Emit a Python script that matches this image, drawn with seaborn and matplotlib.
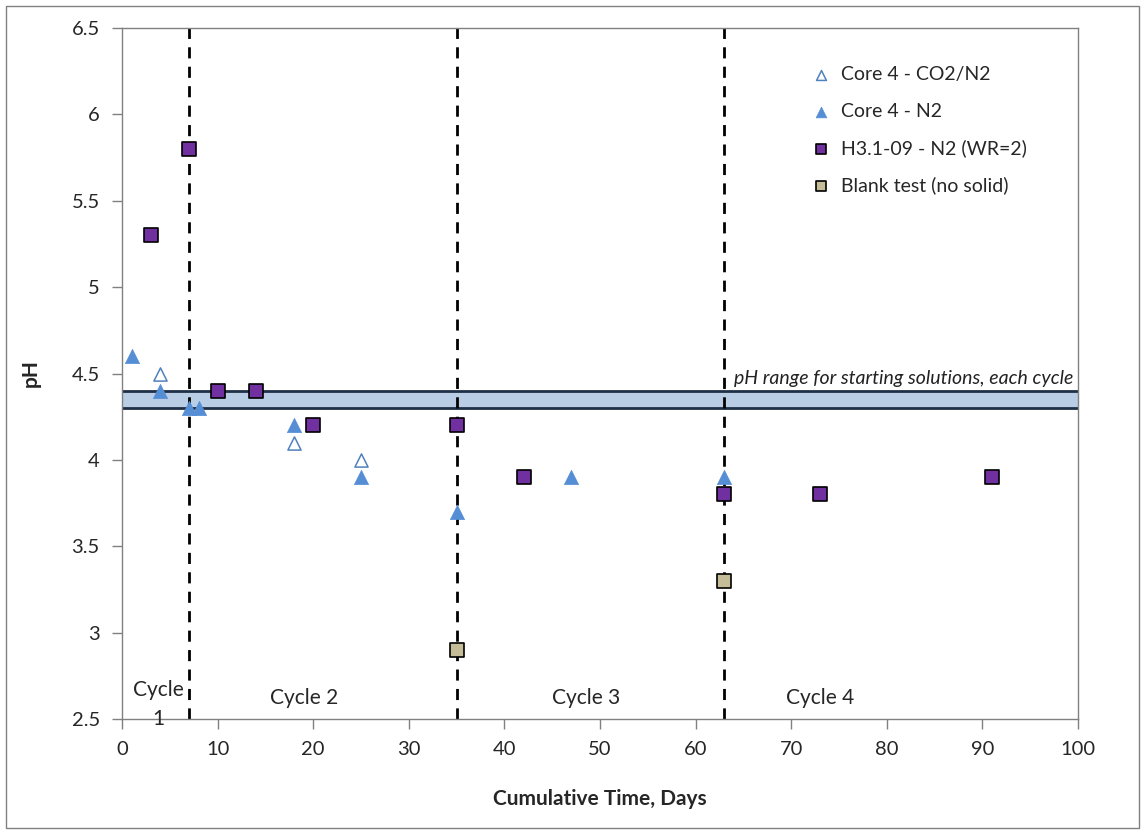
import pandas as pd
import seaborn as sns
import matplotlib.pyplot as plt
from matplotlib.patches import Rectangle

# data
co2_days = [4, 18, 25]
co2_ph = [4.5, 4.1, 4.0]

n2_days = [1, 4, 7, 8, 18, 25, 35, 47, 63]
n2_ph = [4.6, 4.4, 4.3, 4.3, 4.2, 3.9, 3.7, 3.9, 3.9]

h31_days = [3, 7, 10, 14, 20, 35, 42, 63, 73, 91]
h31_ph = [5.3, 5.8, 4.4, 4.4, 4.2, 4.2, 3.9, 3.8, 3.8, 3.9]

blank_days = [35, 63]
blank_ph = [2.9, 3.3]

cycle_bounds = [7, 35, 63]
band_low, band_high = 4.3, 4.4

sns.set_theme(style="white")
plt.rcParams['font.family'] = ['Lato', 'DejaVu Sans']

fig = plt.figure(figsize=(11.45, 8.34), dpi=100)
ax = fig.add_axes([0.1066, 0.1379, 0.8349, 0.8285])

# starting-solution pH band
ax.axhspan(band_low, band_high, facecolor='#b9cde5', edgecolor='none', zorder=1)
ax.axhline(band_low, color='#1f2f45', lw=2, zorder=2)
ax.axhline(band_high, color='#1f2f45', lw=2, zorder=2)

for b in cycle_bounds:
    ax.axvline(b, color='black', ls=(0, (4, 3)), lw=2, zorder=2)

sns.scatterplot(x=co2_days, y=co2_ph, ax=ax, marker='^', s=90,
                facecolor='white', edgecolor='#4f81bd', linewidth=1.1,
                label='Core 4 - CO2/N2', zorder=3)
sns.scatterplot(x=n2_days, y=n2_ph, ax=ax, marker='^', s=105,
                color='#558ed5', edgecolor='#558ed5', linewidth=0.5,
                label='Core 4 - N2', zorder=4)
sns.scatterplot(x=h31_days, y=h31_ph, ax=ax, marker='s', s=95,
                color='#7030a0', edgecolor='black', linewidth=1.2,
                label='H3.1-09 - N2 (WR=2)', zorder=5)
sns.scatterplot(x=blank_days, y=blank_ph, ax=ax, marker='s', s=95,
                color='#c4bd97', edgecolor='black', linewidth=1.2,
                label='Blank test (no solid)', zorder=5)

ax.set_xlim(0, 100)
ax.set_ylim(2.5, 6.5)
ax.set_xticks(range(0, 101, 10))
ax.set_yticks([2.5, 3, 3.5, 4, 4.5, 5, 5.5, 6, 6.5])
ax.set_yticklabels(['2.5', '3', '3.5', '4', '4.5', '5', '5.5', '6', '6.5'])
ax.tick_params(axis='both', labelsize=14.5, direction='out', length=7,
               color='#808080', width=1, left=True, bottom=True, pad=9)
for sp in ax.spines.values():
    sp.set_color('#808080')
    sp.set_linewidth(1)

ax.set_xlabel('Cumulative Time, Days', fontsize=15, fontweight='bold', labelpad=22)
ax.set_ylabel('pH', fontsize=15, fontweight='bold', labelpad=22)

ax.text(99.5, 4.47, 'pH range for starting solutions, each cycle', style='italic',
        fontsize=14, ha='right', va='center', color='#222222')

ax.text(3.8, 2.585, 'Cycle\n1', fontsize=15, ha='center', va='center', linespacing=1.55)
ax.text(19, 2.62, 'Cycle 2', fontsize=15, ha='center', va='center')
ax.text(48.5, 2.62, 'Cycle 3', fontsize=15, ha='center', va='center')
ax.text(73, 2.62, 'Cycle 4', fontsize=15, ha='center', va='center')

leg = ax.legend(loc='upper left', bbox_to_anchor=(0.693, 0.97), frameon=False,
                fontsize=14, handletextpad=0.0, labelspacing=1.0,
                markerscale=0.75)

# outer chart border
fig.patches.append(Rectangle((0.005, 0.007), 0.99, 0.986, transform=fig.transFigure,
                             fill=False, edgecolor='#808080', lw=1))

fig.savefig('out.png', dpi=100)
